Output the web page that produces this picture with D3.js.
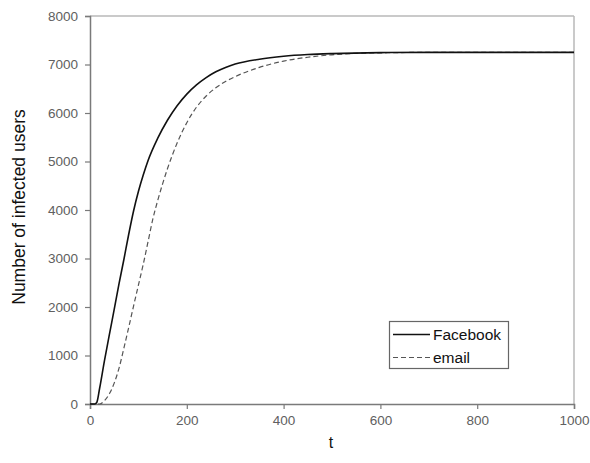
<!DOCTYPE html>
<html><head><meta charset="utf-8">
<script src="https://cdn.jsdelivr.net/npm/d3@7"></script>
<style>body{margin:0;background:#fff;} svg{display:block;font-family:"Liberation Sans",Arial,sans-serif;}</style>
</head><body><div id="chart"></div>
<script>
const xTicks = [0, 200, 400, 600, 800, 1000];
const yTicks = [0, 1000, 2000, 3000, 4000, 5000, 6000, 7000, 8000];
const fbT = [0, 10, 14, 20, 30, 40, 50, 60, 70, 80, 90, 100, 110, 120, 140, 160, 180, 200, 220, 240, 260, 280, 300, 350, 400, 450, 500, 600, 700, 1000];
const fbV = [0, 0, 30, 330, 900, 1430, 1950, 2480, 2980, 3500, 3980, 4380, 4720, 5020, 5480, 5850, 6150, 6390, 6580, 6730, 6850, 6940, 7010, 7110, 7170, 7205, 7225, 7245, 7250, 7250];
const emT = [0, 20, 30, 40, 50, 60, 70, 80, 90, 100, 110, 120, 130, 140, 150, 160, 170, 180, 200, 220, 240, 260, 280, 300, 350, 400, 450, 500, 550, 600, 700, 1000];
const emV = [0, 0, 70, 210, 430, 740, 1150, 1580, 2020, 2450, 2880, 3350, 3820, 4200, 4540, 4850, 5130, 5380, 5800, 6120, 6350, 6520, 6650, 6750, 6940, 7070, 7150, 7200, 7230, 7240, 7250, 7250];
const seriesNames = ["Facebook", "email"];

const W = 590, H = 463;
const svg = d3.select("#chart").append("svg").attr("width", W).attr("height", H);
const x = d3.scaleLinear().domain([0, 1000]).range([90, 574]);
const y = d3.scaleLinear().domain([0, 8000]).range([404, 16]);

// frame top/right
svg.append("line").attr("x1", 90).attr("x2", 574).attr("y1", 16).attr("y2", 16).attr("stroke", "#b8b8b8").attr("stroke-width", 1.5);
svg.append("line").attr("x1", 574).attr("x2", 574).attr("y1", 16).attr("y2", 404).attr("stroke", "#b8b8b8").attr("stroke-width", 1.5);

const xAxis = svg.append("g").attr("transform", "translate(0,404)")
  .call(d3.axisBottom(x).tickValues(xTicks).tickSize(5).tickPadding(6).tickFormat(d3.format("d")));
const yAxis = svg.append("g").attr("transform", "translate(90,0)")
  .call(d3.axisLeft(y).tickValues(yTicks).tickSize(5).tickPadding(7).tickFormat(d3.format("d")));
[xAxis, yAxis].forEach(g => {
  g.select(".domain").attr("stroke", "#7a7a7a").attr("stroke-width", 1.5);
  g.selectAll(".tick line").attr("stroke", "#7a7a7a").attr("stroke-width", 1.2);
  g.selectAll(".tick text").attr("fill", "#606060").style("font-size", "13.5px").style("font-family", "Liberation Sans, Arial, sans-serif");
});

const line = d3.line().x(d => x(d[0])).y(d => y(d[1])).curve(d3.curveMonotoneX);
svg.append("path").datum(emT.map((t, i) => [t, emV[i]])).attr("d", line)
  .attr("fill", "none").attr("stroke", "#555").attr("stroke-width", 1.2).attr("stroke-dasharray", "5,3");
svg.append("path").datum(fbT.map((t, i) => [t, fbV[i]])).attr("d", line)
  .attr("fill", "none").attr("stroke", "#111").attr("stroke-width", 1.6);

// legend
const lg = svg.append("g");
lg.append("rect").attr("x", 389.5).attr("y", 321.5).attr("width", 119).attr("height", 47)
  .attr("fill", "#fff").attr("stroke", "#666").attr("stroke-width", 1.2);
lg.append("line").attr("x1", 393).attr("x2", 430).attr("y1", 334.5).attr("y2", 334.5).attr("stroke", "#111").attr("stroke-width", 1.6);
lg.append("line").attr("x1", 393).attr("x2", 430).attr("y1", 357.5).attr("y2", 357.5).attr("stroke", "#555").attr("stroke-width", 1.2).attr("stroke-dasharray", "5,3");
lg.append("text").attr("x", 433).attr("y", 340).text(seriesNames[0]).style("font-size", "15.5px").attr("fill", "#111");
lg.append("text").attr("x", 433).attr("y", 363).text(seriesNames[1]).style("font-size", "15.5px").attr("fill", "#111");

svg.append("text").attr("x", 331).attr("y", 448).attr("text-anchor", "middle").text("t").style("font-size", "16px").attr("fill", "#111");
svg.append("text").attr("transform", "translate(25,207) rotate(-90)").attr("text-anchor", "middle")
  .text("Number of infected users").style("font-size", "17.5px").attr("fill", "#111");
</script></body></html>
